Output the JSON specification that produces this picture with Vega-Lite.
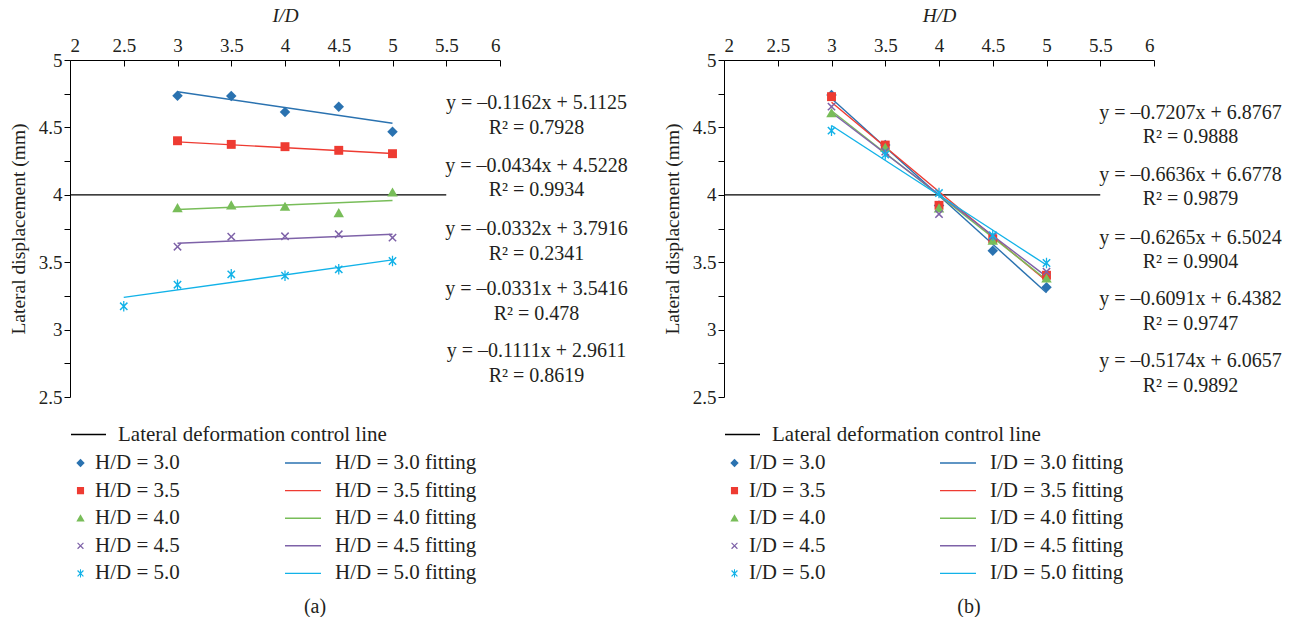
{
  "$schema": "https://vega.github.io/schema/vega-lite/v6.json",
  "background": "white",
  "padding": {"left": 8, "top": 5, "right": 0, "bottom": 0},
  "config": {
    "view": {"stroke": null},
    "axis": {"grid": false, "domainColor": "#000000", "domainWidth": 1, "tickColor": "#000000", "tickWidth": 1, "labelFont": "Liberation Serif", "labelFontSize": 19, "labelColor": "#231f20", "titleFont": "Liberation Serif", "titleFontSize": 19.5, "titleFontWeight": "normal", "titleColor": "#231f20"},
    "legend": {"labelFont": "Liberation Serif", "labelFontSize": 21, "labelColor": "#231f20", "padding": 0, "labelLimit": 400},
    "title": {"font": "Liberation Serif", "fontSize": 20, "fontWeight": "normal", "color": "#231f20"}
  },
  "hconcat": [
    {
      "width": 430, "height": 337,
      "title": {"text": "(a)", "orient": "bottom", "frame": "group", "anchor": "middle", "dx": 30, "offset": 12},
      "encoding": {
        "x": {"field": "x", "type": "quantitative", "scale": {"domain": [2, 6], "nice": false, "zero": false},
          "axis": {"orient": "top", "title": "I/D", "titleFontStyle": "italic", "values": [2, 2.5, 3, 3.5, 4, 4.5, 5, 5.5, 6], "format": "~g", "tickSize": -6, "labelPadding": 11, "titlePadding": 11}},
        "y": {"field": "y", "type": "quantitative", "scale": {"domain": [2.5, 5], "nice": false, "zero": false},
          "axis": {"orient": "left", "title": "Lateral displacement (mm)", "values": [2.5, 2.75, 3, 3.25, 3.5, 3.75, 4, 4.25, 4.5, 4.75, 5], "format": "~g", "labelExpr": "datum.value % 0.5 === 0 ? datum.label : ''", "tickSize": 6, "labelPadding": 2, "titlePadding": 10}}
      },
      "layer": [
        {
          "data": {"values": [{"x": 2, "x2": 5.5, "y": 4, "name": "Lateral deformation control line"}]},
          "mark": {"type": "rule", "color": "#000000", "strokeWidth": 1.3},
          "encoding": {
            "x2": {"field": "x2"},
            "strokeDash": {"field": "name", "type": "nominal", "scale": {"range": [[1, 0]]},
              "legend": {"title": null, "orient": "none", "legendX": 0, "legendY": 356, "symbolType": "stroke", "symbolStrokeColor": "#000000", "symbolSize": 1225, "symbolStrokeWidth": 1.3, "labelOffset": 11}}
          }
        },
        {
          "data": {"values": [
            {"x": 3, "y": 4.764, "fit": "H/D = 3.0 fitting"}, {"x": 5, "y": 4.531, "fit": "H/D = 3.0 fitting"},
            {"x": 3, "y": 4.393, "fit": "H/D = 3.5 fitting"}, {"x": 5, "y": 4.306, "fit": "H/D = 3.5 fitting"},
            {"x": 3, "y": 3.891, "fit": "H/D = 4.0 fitting"}, {"x": 5, "y": 3.958, "fit": "H/D = 4.0 fitting"},
            {"x": 3, "y": 3.641, "fit": "H/D = 4.5 fitting"}, {"x": 5, "y": 3.707, "fit": "H/D = 4.5 fitting"},
            {"x": 2.5, "y": 3.239, "fit": "H/D = 5.0 fitting"}, {"x": 5, "y": 3.517, "fit": "H/D = 5.0 fitting"}
          ]},
          "mark": {"type": "line", "strokeWidth": 1.4},
          "encoding": {
            "stroke": {"field": "fit", "type": "nominal", "scale": {"range": ["#2a72b0", "#ee3b32", "#78bd59", "#7e62a8", "#12b2e8"]},
              "legend": {"title": null, "orient": "none", "legendX": 214, "legendY": 392, "symbolType": "stroke", "symbolSize": 1296, "symbolStrokeWidth": 1.4, "labelOffset": 13, "clipHeight": 22, "rowPadding": 5.6}}
          }
        },
        {
          "data": {"values": [
            {"x": 3, "y": 4.735, "series": "H/D = 3.0"}, {"x": 3.5, "y": 4.733, "series": "H/D = 3.0"}, {"x": 4, "y": 4.614, "series": "H/D = 3.0"}, {"x": 4.5, "y": 4.654, "series": "H/D = 3.0"}, {"x": 5, "y": 4.468, "series": "H/D = 3.0"},
            {"x": 3, "y": 4.401, "series": "H/D = 3.5"}, {"x": 3.5, "y": 4.374, "series": "H/D = 3.5"}, {"x": 4, "y": 4.357, "series": "H/D = 3.5"}, {"x": 4.5, "y": 4.33, "series": "H/D = 3.5"}, {"x": 5, "y": 4.305, "series": "H/D = 3.5"},
            {"x": 3, "y": 3.902, "series": "H/D = 4.0"}, {"x": 3.5, "y": 3.922, "series": "H/D = 4.0"}, {"x": 4, "y": 3.912, "series": "H/D = 4.0"}, {"x": 4.5, "y": 3.865, "series": "H/D = 4.0"}, {"x": 5, "y": 4.018, "series": "H/D = 4.0"},
            {"x": 3, "y": 3.615, "series": "H/D = 4.5"}, {"x": 3.5, "y": 3.689, "series": "H/D = 4.5"}, {"x": 4, "y": 3.692, "series": "H/D = 4.5"}, {"x": 4.5, "y": 3.707, "series": "H/D = 4.5"}, {"x": 5, "y": 3.682, "series": "H/D = 4.5"},
            {"x": 2.5, "y": 3.173, "series": "H/D = 5.0"}, {"x": 3, "y": 3.333, "series": "H/D = 5.0"}, {"x": 3.5, "y": 3.41, "series": "H/D = 5.0"}, {"x": 4, "y": 3.4, "series": "H/D = 5.0"}, {"x": 4.5, "y": 3.447, "series": "H/D = 5.0"}, {"x": 5, "y": 3.509, "series": "H/D = 5.0"}
          ]},
          "mark": {"type": "point", "filled": true, "size": 110, "opacity": 1},
          "encoding": {
            "fill": {"field": "series", "type": "nominal", "scale": {"range": ["#2a72b0", "#ee3b32", "#78bd59", "#7e62a8", "#12b2e8"]},
              "legend": {"title": null, "orient": "none", "legendX": 0, "legendY": 392, "symbolSize": 70, "labelOffset": 4, "clipHeight": 22, "rowPadding": 5.6}},
            "shape": {"field": "series", "type": "nominal", "scale": {"range": [
              "M0,-1L1,0L0,1L-1,0Z",
              "M-0.85,-0.85L0.85,-0.85L0.85,0.85L-0.85,0.85Z",
              "M0,-0.95L1,0.8L-1,0.8Z",
              "M-0.8,-0.6L-0.6,-0.8L0,-0.2L0.6,-0.8L0.8,-0.6L0.2,0L0.8,0.6L0.6,0.8L0,0.2L-0.6,0.8L-0.8,0.6L-0.2,0Z",
              "M-0.8,-0.6L-0.6,-0.8L0,-0.2L0.6,-0.8L0.8,-0.6L0.2,0L0.8,0.6L0.6,0.8L0,0.2L-0.6,0.8L-0.8,0.6L-0.2,0ZM-0.12,-1L0.12,-1L0.12,1L-0.12,1Z"
            ]},
              "legend": {"title": null, "orient": "none", "legendX": 0, "legendY": 392, "symbolSize": 70, "labelOffset": 4, "clipHeight": 22, "rowPadding": 5.6}}
          }
        },
        {
          "data": {"values": [
            {"x": 6.34, "y": 4.681, "eq": "y = –0.1162x + 5.1125\nR² = 0.7928"},
            {"x": 6.34, "y": 4.214, "eq": "y = –0.0434x + 4.5228\nR² = 0.9934"},
            {"x": 6.34, "y": 3.746, "eq": "y = –0.0332x + 3.7916\nR² = 0.2341"},
            {"x": 6.34, "y": 3.301, "eq": "y = –0.0331x + 3.5416\nR² = 0.478"},
            {"x": 6.34, "y": 2.841, "eq": "y = –0.1111x + 2.9611\nR² = 0.8619"}
          ]},
          "mark": {"type": "text", "font": "Liberation Serif", "fontSize": 20, "color": "#231f20", "align": "center", "baseline": "middle", "lineBreak": "\n", "lineHeight": 24.5},
          "encoding": {"text": {"field": "eq", "type": "nominal"}}
        }
      ]
    },
    {
      "width": 430, "height": 337,
      "title": {"text": "(b)", "orient": "bottom", "frame": "group", "anchor": "middle", "dx": 30, "offset": 12},
      "encoding": {
        "x": {"field": "x", "type": "quantitative", "scale": {"domain": [2, 6], "nice": false, "zero": false},
          "axis": {"orient": "top", "title": "H/D", "titleFontStyle": "italic", "values": [2, 2.5, 3, 3.5, 4, 4.5, 5, 5.5, 6], "format": "~g", "tickSize": -6, "labelPadding": 11, "titlePadding": 11}},
        "y": {"field": "y", "type": "quantitative", "scale": {"domain": [2.5, 5], "nice": false, "zero": false},
          "axis": {"orient": "left", "title": "Lateral displacement (mm)", "values": [2.5, 2.75, 3, 3.25, 3.5, 3.75, 4, 4.25, 4.5, 4.75, 5], "format": "~g", "labelExpr": "datum.value % 0.5 === 0 ? datum.label : ''", "tickSize": 6, "labelPadding": 2, "titlePadding": 10}}
      },
      "layer": [
        {
          "data": {"values": [{"x": 2, "x2": 5.5, "y": 4, "name": "Lateral deformation control line"}]},
          "mark": {"type": "rule", "color": "#000000", "strokeWidth": 1.3},
          "encoding": {
            "x2": {"field": "x2"},
            "strokeDash": {"field": "name", "type": "nominal", "scale": {"range": [[1, 0]]},
              "legend": {"title": null, "orient": "none", "legendX": 0, "legendY": 356, "symbolType": "stroke", "symbolStrokeColor": "#000000", "symbolSize": 1225, "symbolStrokeWidth": 1.3, "labelOffset": 11}}
          }
        },
        {
          "data": {"values": [
            {"x": 3, "y": 4.715, "fit": "I/D = 3.0 fitting"}, {"x": 5, "y": 3.273, "fit": "I/D = 3.0 fitting"},
            {"x": 3, "y": 4.687, "fit": "I/D = 3.5 fitting"}, {"x": 5, "y": 3.36, "fit": "I/D = 3.5 fitting"},
            {"x": 3, "y": 4.623, "fit": "I/D = 4.0 fitting"}, {"x": 5, "y": 3.37, "fit": "I/D = 4.0 fitting"},
            {"x": 3, "y": 4.611, "fit": "I/D = 4.5 fitting"}, {"x": 5, "y": 3.393, "fit": "I/D = 4.5 fitting"},
            {"x": 3, "y": 4.514, "fit": "I/D = 5.0 fitting"}, {"x": 5, "y": 3.479, "fit": "I/D = 5.0 fitting"}
          ]},
          "mark": {"type": "line", "strokeWidth": 1.4},
          "encoding": {
            "stroke": {"field": "fit", "type": "nominal", "scale": {"range": ["#2a72b0", "#ee3b32", "#78bd59", "#7e62a8", "#12b2e8"]},
              "legend": {"title": null, "orient": "none", "legendX": 215, "legendY": 392, "symbolType": "stroke", "symbolSize": 1296, "symbolStrokeWidth": 1.4, "labelOffset": 13, "clipHeight": 22, "rowPadding": 5.6}}
          }
        },
        {
          "data": {"values": [
            {"x": 3, "y": 4.74, "series": "I/D = 3.0"}, {"x": 3.5, "y": 4.37, "series": "I/D = 3.0"}, {"x": 4, "y": 3.92, "series": "I/D = 3.0"}, {"x": 4.5, "y": 3.585, "series": "I/D = 3.0"}, {"x": 5, "y": 3.314, "series": "I/D = 3.0"},
            {"x": 3, "y": 4.728, "series": "I/D = 3.5"}, {"x": 3.5, "y": 4.369, "series": "I/D = 3.5"}, {"x": 4, "y": 3.922, "series": "I/D = 3.5"}, {"x": 4.5, "y": 3.674, "series": "I/D = 3.5"}, {"x": 5, "y": 3.403, "series": "I/D = 3.5"},
            {"x": 3, "y": 4.607, "series": "I/D = 4.0"}, {"x": 3.5, "y": 4.35, "series": "I/D = 4.0"}, {"x": 4, "y": 3.9, "series": "I/D = 4.0"}, {"x": 4.5, "y": 3.66, "series": "I/D = 4.0"}, {"x": 5, "y": 3.38, "series": "I/D = 4.0"},
            {"x": 3, "y": 4.654, "series": "I/D = 4.5"}, {"x": 3.5, "y": 4.32, "series": "I/D = 4.5"}, {"x": 4, "y": 3.857, "series": "I/D = 4.5"}, {"x": 4.5, "y": 3.69, "series": "I/D = 4.5"}, {"x": 5, "y": 3.43, "series": "I/D = 4.5"},
            {"x": 3, "y": 4.476, "series": "I/D = 5.0"}, {"x": 3.5, "y": 4.298, "series": "I/D = 5.0"}, {"x": 4, "y": 4.013, "series": "I/D = 5.0"}, {"x": 4.5, "y": 3.7, "series": "I/D = 5.0"}, {"x": 5, "y": 3.494, "series": "I/D = 5.0"}
          ]},
          "mark": {"type": "point", "filled": true, "size": 110, "opacity": 1},
          "encoding": {
            "fill": {"field": "series", "type": "nominal", "scale": {"range": ["#2a72b0", "#ee3b32", "#78bd59", "#7e62a8", "#12b2e8"]},
              "legend": {"title": null, "orient": "none", "legendX": 0, "legendY": 392, "symbolSize": 70, "labelOffset": 4, "clipHeight": 22, "rowPadding": 5.6}},
            "shape": {"field": "series", "type": "nominal", "scale": {"range": [
              "M0,-1L1,0L0,1L-1,0Z",
              "M-0.85,-0.85L0.85,-0.85L0.85,0.85L-0.85,0.85Z",
              "M0,-0.95L1,0.8L-1,0.8Z",
              "M-0.8,-0.6L-0.6,-0.8L0,-0.2L0.6,-0.8L0.8,-0.6L0.2,0L0.8,0.6L0.6,0.8L0,0.2L-0.6,0.8L-0.8,0.6L-0.2,0Z",
              "M-0.8,-0.6L-0.6,-0.8L0,-0.2L0.6,-0.8L0.8,-0.6L0.2,0L0.8,0.6L0.6,0.8L0,0.2L-0.6,0.8L-0.8,0.6L-0.2,0ZM-0.12,-1L0.12,-1L0.12,1L-0.12,1Z"
            ]},
              "legend": {"title": null, "orient": "none", "legendX": 0, "legendY": 392, "symbolSize": 70, "labelOffset": 4, "clipHeight": 22, "rowPadding": 5.6}}
          }
        },
        {
          "data": {"values": [
            {"x": 6.34, "y": 4.607, "eq": "y = –0.7207x + 6.8767\nR² = 0.9888"},
            {"x": 6.34, "y": 4.147, "eq": "y = –0.6636x + 6.6778\nR² = 0.9879"},
            {"x": 6.34, "y": 3.68, "eq": "y = –0.6265x + 6.5024\nR² = 0.9904"},
            {"x": 6.34, "y": 3.227, "eq": "y = –0.6091x + 6.4382\nR² = 0.9747"},
            {"x": 6.34, "y": 2.767, "eq": "y = –0.5174x + 6.0657\nR² = 0.9892"}
          ]},
          "mark": {"type": "text", "font": "Liberation Serif", "fontSize": 20, "color": "#231f20", "align": "center", "baseline": "middle", "lineBreak": "\n", "lineHeight": 24.5},
          "encoding": {"text": {"field": "eq", "type": "nominal"}}
        }
      ]
    }
  ],
  "spacing": 224,
  "bounds": "flush",
  "resolve": {"scale": {"fill": "independent", "shape": "independent", "stroke": "independent", "strokeDash": "independent", "x": "independent", "y": "independent"}}
}
